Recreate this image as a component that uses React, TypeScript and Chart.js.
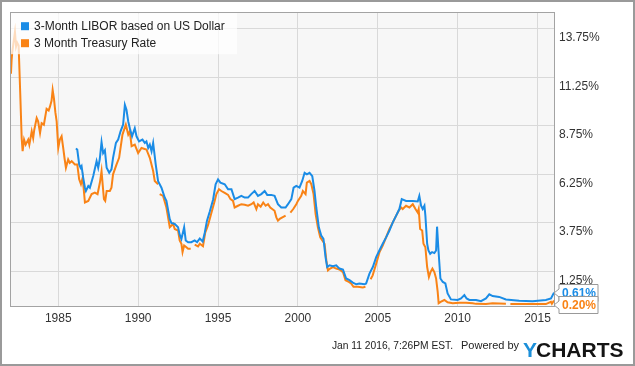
import React, { useEffect, useRef } from "react";
import { Chart, registerables } from "chart.js";

Chart.register(...registerables);

const seriesNames = ["3-Month LIBOR based on US Dollar", "3 Month Treasury Rate"];
const seriesColors = ["#1a8ce6", "#f98316"];

const xTickYears = [1985, 1990, 1995, 2000, 2005, 2010, 2015];
const yTickValues = [1.25, 3.75, 6.25, 8.75, 11.25, 13.75];

const footerDate = "Jan 11 2016, 7:26PM EST.";
const footerPowered = "Powered by";

const liborYears = [
  1986.1, 1986.19, 1986.31, 1986.4, 1986.46, 1986.56, 1986.67, 1986.73, 1986.88, 1986.98,
  1987.19, 1987.4, 1987.5, 1987.6, 1987.71, 1987.81, 1987.92, 1988.03, 1988.19, 1988.33,
  1988.43, 1988.61, 1988.75, 1988.9, 1989.06, 1989.17, 1989.27, 1989.38, 1989.48, 1989.62,
  1989.79, 1989.9, 1990.06, 1990.27, 1990.42, 1990.52, 1990.63, 1990.73, 1990.84, 1990.94,
  1991.1, 1991.25, 1991.46, 1991.67, 1991.77, 1991.98, 1992.08, 1992.29, 1992.5, 1992.6,
  1992.71, 1992.88, 1992.98, 1993.13, 1993.33, 1993.54, 1993.69, 1993.86, 1994.04, 1994.17,
  1994.31, 1994.48, 1994.69, 1994.85, 1995.0, 1995.15, 1995.42, 1995.63, 1995.84, 1996.04,
  1996.25, 1996.46, 1996.67, 1996.88, 1997.08, 1997.29, 1997.5, 1997.71, 1997.92, 1998.08,
  1998.33, 1998.54, 1998.75, 1998.96, 1999.23, 1999.38, 1999.59, 1999.73, 1999.9, 2000.1,
  2000.27, 2000.42, 2000.56, 2000.73, 2000.9, 2001.04, 2001.15, 2001.31, 2001.46, 2001.6,
  2001.73, 2001.83, 2001.98, 2002.19, 2002.4, 2002.6, 2002.82, 2003.02, 2003.23, 2003.44,
  2003.65, 2003.85, 2004.17, 2004.27, 2004.48, 2004.69, 2004.9, 2005.1, 2005.31, 2005.52,
  2005.73, 2005.94, 2006.15, 2006.35, 2006.5, 2006.77, 2007.19, 2007.5, 2007.6, 2007.71,
  2007.81, 2007.92, 2007.98, 2008.09, 2008.17, 2008.28, 2008.4, 2008.54, 2008.65, 2008.71,
  2008.8, 2008.92, 2009.07, 2009.23, 2009.37, 2009.58, 2010.0, 2010.21, 2010.42, 2010.56,
  2010.73, 2011.15, 2011.46, 2011.77, 2011.98, 2012.19, 2012.6, 2013.02, 2013.85, 2014.69,
  2015.52, 2015.84, 2016.03,
];
const liborRates = [
  8.04, 7.99, 7.22, 7.05, 7.13, 6.54, 6.02, 5.85, 6.11, 6.02,
  6.62, 7.39, 7.05, 7.5, 8.37, 7.8, 7.95, 7.05, 6.79, 6.97,
  7.56, 8.33, 8.5, 8.93, 9.27, 10.29, 10.04, 9.44, 9.09, 8.67,
  9.09, 8.67, 8.41, 8.5, 8.33, 8.41, 8.07, 8.24, 7.9, 8.33,
  7.22, 6.35, 6.02, 5.5, 5.34, 4.4, 4.2, 4.15, 3.98, 3.6,
  3.38, 3.98, 3.3, 3.21, 3.21, 3.3, 3.21, 3.4, 3.25, 3.7,
  4.32, 4.78, 5.4, 6.2, 6.45, 6.28, 6.2, 5.94, 5.94, 5.43,
  5.51, 5.6, 5.51, 5.51, 5.69, 5.85, 5.6, 5.69, 5.85, 5.65,
  5.65, 5.6, 5.17, 5.0, 5.0, 5.17, 5.43, 6.02, 6.11, 6.02,
  6.37, 6.79, 6.71, 6.79, 6.62, 5.85, 5.0, 3.98, 3.55, 3.38,
  2.44, 1.93, 2.02, 1.97, 2.02, 1.85, 1.8, 1.34, 1.25, 1.13,
  1.04, 1.08, 1.04, 1.08, 1.59, 1.93, 2.44, 2.78, 3.13, 3.46,
  3.81, 4.23, 4.58, 4.92, 5.43, 5.34, 5.34, 5.31, 5.6, 5.09,
  4.92, 5.09, 4.58, 3.13, 2.78, 2.61, 2.7, 2.65, 2.78, 4.01,
  2.78, 1.34, 1.16, 1.08, 0.57, 0.26, 0.23, 0.31, 0.48, 0.31,
  0.23, 0.23, 0.17, 0.31, 0.52, 0.43, 0.39, 0.26, 0.19, 0.17,
  0.23, 0.31, 0.61,
];

const treasuryYears = [
  1982.04, 1982.08, 1982.12, 1982.2, 1982.29, 1982.36, 1982.43, 1982.52, 1982.62, 1982.71,
  1982.77, 1982.86, 1982.96, 1983.12, 1983.19, 1983.34, 1983.43, 1983.5, 1983.65, 1983.74,
  1983.86, 1983.96, 1984.1, 1984.27, 1984.4, 1984.48, 1984.58, 1984.65, 1984.73, 1984.82,
  1984.9, 1985.0, 1985.1, 1985.21, 1985.31, 1985.4, 1985.48, 1985.62, 1985.72, 1985.84,
  1986.04, 1986.19, 1986.31, 1986.42, 1986.53, 1986.67, 1986.88, 1987.09, 1987.29, 1987.46,
  1987.61, 1987.71, 1987.8, 1987.86, 1987.94, 1988.03, 1988.23, 1988.33, 1988.43, 1988.65,
  1988.81, 1989.02, 1989.23, 1989.38, 1989.48, 1989.59, 1989.79, 1990.0, 1990.21, 1990.52,
  1990.73, 1990.94, 1991.04, 1991.25, 1991.3, 1991.35, 1991.56, 1991.77, 1991.98, 1992.19,
  1992.29, 1992.5, 1992.6, 1992.71, 1992.78, 1992.88, 1993.02, 1993.13, 1993.29, 1993.4,
  1993.54, 1993.75, 1993.86, 1994.06, 1994.2, 1994.38, 1994.58, 1994.79, 1994.9, 1995.06,
  1995.21, 1995.42, 1995.63, 1995.78, 1995.94, 1996.04, 1996.25, 1996.46, 1996.67, 1996.88,
  1997.09, 1997.23, 1997.4, 1997.5, 1997.67, 1997.83, 1997.98, 1998.13, 1998.27, 1998.54,
  1998.65, 1998.75, 1998.86, 1999.03, 1999.23, 1999.35, 1999.53, 1999.71, 1999.9, 2000.0,
  2000.21, 2000.31, 2000.48, 2000.56, 2000.73, 2000.84, 2000.98, 2001.11, 2001.25, 2001.4,
  2001.53, 2001.67, 2001.78, 2001.88, 2002.02, 2002.19, 2002.4, 2002.6, 2002.82, 2002.98,
  2003.19, 2003.33, 2003.48, 2003.75, 2004.06, 2004.23, 2004.38, 2004.55, 2004.68, 2004.9,
  2005.11, 2005.31, 2005.52, 2005.73, 2005.94, 2006.15, 2006.31, 2006.46, 2006.56, 2006.77,
  2006.98, 2007.19, 2007.36, 2007.5, 2007.56, 2007.65, 2007.78, 2007.86, 2007.98, 2008.09,
  2008.2, 2008.3, 2008.42, 2008.54, 2008.65, 2008.75, 2008.81, 2008.96, 2009.17, 2009.37,
  2009.69, 2010.1, 2010.52, 2010.94, 2011.15, 2011.77, 2012.19, 2013.02, 2013.15, 2013.3,
  2014.27, 2015.52, 2015.84, 2015.9, 2016.03,
];
const treasuryRates = [
  11.9, 12.6, 13.0, 13.5, 14.05, 13.3, 13.5, 13.35, 10.9, 8.58,
  7.9, 8.5, 8.24, 8.5, 8.24, 8.93, 8.58, 9.01, 9.61, 9.44,
  8.84, 9.35, 9.27, 10.09, 10.0, 10.2, 10.5, 11.06, 10.63, 9.9,
  9.44, 8.07, 8.5, 8.67, 8.07, 7.5, 7.05, 7.48, 7.3, 7.39,
  7.22, 7.22, 6.45, 6.2, 6.54, 5.26, 5.34, 5.69, 5.77, 5.69,
  6.3, 6.88, 6.0, 5.43, 5.34, 5.85, 5.85, 6.02, 6.71, 7.22,
  7.56, 8.76, 9.27, 8.76, 8.93, 8.16, 8.24, 7.81, 8.07, 7.99,
  7.56, 6.88, 6.37, 6.2, null, 5.69, 5.6, 5.0, 3.98, 4.15,
  3.89, 3.81, 3.3, 3.13, 2.7, 3.04, 2.95, 2.87, 2.87, null,
  3.08, 2.99, 3.13, 3.0, 3.7, 4.1, 4.7, 5.34, 5.69, 5.94,
  5.85, 5.75, 5.65, 5.43, 5.34, 5.0, 5.09, 5.17, 5.14, 5.09,
  5.17, 5.26, 4.92, 5.17, 5.04, 5.26, 5.09, 5.17, 5.0, 4.83,
  4.49, 4.32, 4.41, 4.49, 4.58, null, 4.74, 4.92, 5.17, 5.34,
  5.6, 5.85, 5.69, 6.28, 6.37, 6.2, 5.69, 4.66, 3.98, 3.46,
  3.3, 3.13, 2.27, 1.76, 1.85, 1.93, 1.85, 1.8, 1.67, 1.25,
  1.16, 1.08, 0.91, 0.91, 0.88, 0.91, null, 1.3, 1.5, 2.1,
  2.7, 3.04, 3.46, 3.89, 4.23, 4.58, 4.83, 5.0, 4.92, 5.09,
  5.0, 5.17, 4.92, 4.74, 4.92, 3.89, 3.81, 3.13, 2.95, 1.93,
  1.42, 1.67, 1.85, 1.67, 1.34, 0.65, 0.06, 0.14, 0.23, 0.11,
  0.06, 0.09, 0.09, 0.06, 0.03, 0.02, 0.06, 0.04, null, 0.02,
  0.02, 0.02, 0.14, 0.04, 0.2,
];

const FONT = "'Liberation Sans', Arial, Helvetica, sans-serif";

const decorPlugin = {
  id: "ychartsDecor",
  beforeDraw(chart: any) {
    const { ctx, chartArea: a, width, height } = chart;
    ctx.save();
    ctx.fillStyle = "#ffffff";
    ctx.fillRect(0, 0, width, height);
    ctx.fillStyle = "#f7f7f7";
    ctx.fillRect(a.left, a.top, a.right - a.left, a.bottom - a.top);
    ctx.restore();
  },
  beforeDatasetsDraw(chart: any) {
    const { ctx, chartArea: a } = chart;
    const ys = chart.scales.y;
    ctx.save();
    ctx.strokeStyle = "#d9d9d9";
    ctx.lineWidth = 1;
    yTickValues.forEach((v) => {
      const y = Math.round(ys.getPixelForValue(v) - 9.7) + 0.5;
      ctx.beginPath();
      ctx.moveTo(a.left, y);
      ctx.lineTo(a.right, y);
      ctx.stroke();
    });
    ctx.restore();
  },
  afterDraw(chart: any) {
    const { ctx, chartArea: a, width, height } = chart;
    const ys = chart.scales.y;
    ctx.save();
    // plot border
    ctx.strokeStyle = "#a3a3a3";
    ctx.lineWidth = 1;
    ctx.strokeRect(Math.round(a.left) + 0.5, Math.round(a.top) + 0.5, Math.round(a.right - a.left), Math.round(a.bottom - a.top));

    // legend box
    ctx.fillStyle = "rgba(255,255,255,0.72)";
    ctx.fillRect(a.left + 1, a.top + 1, 226, 41);
    ctx.font = `12px ${FONT}`;
    ctx.textBaseline = "middle";
    ctx.textAlign = "left";
    seriesNames.forEach((name, i) => {
      const cy = a.top + 14 + i * 17;
      ctx.fillStyle = seriesColors[i];
      ctx.fillRect(a.left + 11, cy - 4, 8, 8);
      ctx.fillStyle = "#222";
      ctx.fillText(name, a.left + 24, cy + 0.5);
    });

    // end-value labels
    const lastL = liborRates[liborRates.length - 1] as number;
    const lastT = treasuryRates[treasuryRates.length - 1] as number;
    const oC = ys.getPixelForValue(lastT) + 4;
    const bC = Math.min(ys.getPixelForValue(lastL), oC - 11);
    const drawTag = (cy: number, text: string, color: string) => {
      const x0 = a.right + 5;
      const x1 = x0 + 39;
      const top = Math.round(cy - 8.5) + 0.5;
      const bot = top + 17;
      const mid = (top + bot) / 2;
      ctx.beginPath();
      ctx.moveTo(x0, top);
      ctx.lineTo(x1, top);
      ctx.lineTo(x1, bot);
      ctx.lineTo(x0, bot);
      ctx.lineTo(x0, mid + 4);
      ctx.lineTo(a.right, mid);
      ctx.lineTo(x0, mid - 4);
      ctx.closePath();
      ctx.fillStyle = "#ffffff";
      ctx.fill();
      ctx.strokeStyle = "#999999";
      ctx.lineWidth = 1;
      ctx.stroke();
      ctx.fillStyle = color;
      ctx.font = `bold 12px ${FONT}`;
      ctx.textAlign = "center";
      ctx.textBaseline = "middle";
      ctx.fillText(text, (x0 + x1) / 2 + 0.5, mid + 0.5);
    };
    drawTag(bC, lastL.toFixed(2) + "%", seriesColors[0]);
    drawTag(oC, lastT.toFixed(2) + "%", seriesColors[1]);

    // footer
    ctx.textBaseline = "alphabetic";
    ctx.fillStyle = "#222";
    ctx.font = `11px ${FONT}`;
    ctx.textAlign = "left";
    ctx.fillText(footerDate, 332, 349, 121);
    ctx.fillText(footerPowered, 461, 349, 59);
    ctx.font = `bold 21px ${FONT}`;
    ctx.fillStyle = "#1b8fd9";
    ctx.fillText("Y", 523, 357);
    const yw = ctx.measureText("Y").width;
    ctx.fillStyle = "#141414";
    ctx.fillText("CHARTS", 523 + yw - 1, 357);

    // outer frame
    ctx.strokeStyle = "#9a9a9a";
    ctx.lineWidth = 2;
    ctx.strokeRect(1, 1, width - 2, height - 2);
    ctx.restore();
  },
};

export default function App() {
  const ref = useRef<HTMLCanvasElement | null>(null);
  useEffect(() => {
    document.body.style.margin = "0";
    const canvas = ref.current;
    if (!canvas) return;
    const chart = new Chart(canvas, {
      type: "line",
      data: {
        datasets: [
          {
            label: seriesNames[0],
            data: liborYears.map((x, i) => ({ x, y: liborRates[i] })),
            borderColor: seriesColors[0],
            borderWidth: 2,
            pointRadius: 0,
            tension: 0,
            spanGaps: false,
            order: 0,
          },
          {
            label: seriesNames[1],
            data: treasuryYears.map((x, i) => ({ x, y: treasuryRates[i] })),
            borderColor: seriesColors[1],
            borderWidth: 2,
            pointRadius: 0,
            tension: 0,
            spanGaps: false,
            order: 1,
          },
        ],
      },
      options: {
        animation: false,
        responsive: false,
        devicePixelRatio: 1,
        layout: { padding: { left: 10, top: 10, right: 0, bottom: 0 } },
        plugins: {
          legend: { display: false },
          tooltip: { enabled: false },
        },
        scales: {
          x: {
            type: "linear",
            min: 1981.98,
            max: 2016.03,
            afterBuildTicks: (s: any) => {
              s.ticks = xTickYears.map((v) => ({ value: v }));
            },
            afterFit: (s: any) => {
              s.height = 60;
            },
            grid: { color: "#d9d9d9", drawTicks: false, tickLength: 0 },
            border: { display: false },
            ticks: {
              autoSkip: false,
              maxRotation: 0,
              padding: 5,
              color: "#333",
              font: { family: FONT, size: 12 },
              callback: (v: any) => String(v),
            },
          },
          y: {
            type: "linear",
            position: "right",
            min: -0.08,
            max: 15.07,
            afterBuildTicks: (s: any) => {
              s.ticks = yTickValues.map((v) => ({ value: v }));
            },
            afterFit: (s: any) => {
              s.width = 81;
            },
            grid: { display: false, drawTicks: false, tickLength: 0 },
            border: { display: false },
            ticks: {
              padding: 5,
              color: "#333",
              font: { family: FONT, size: 12 },
              callback: (v: any) => Number(v).toFixed(2) + "%",
            },
          },
        },
      },
      plugins: [decorPlugin],
    } as any);
    return () => chart.destroy();
  }, []);
  return <canvas ref={ref} width={635} height={366} style={{ display: "block", width: 635, height: 366 }} />;
}
